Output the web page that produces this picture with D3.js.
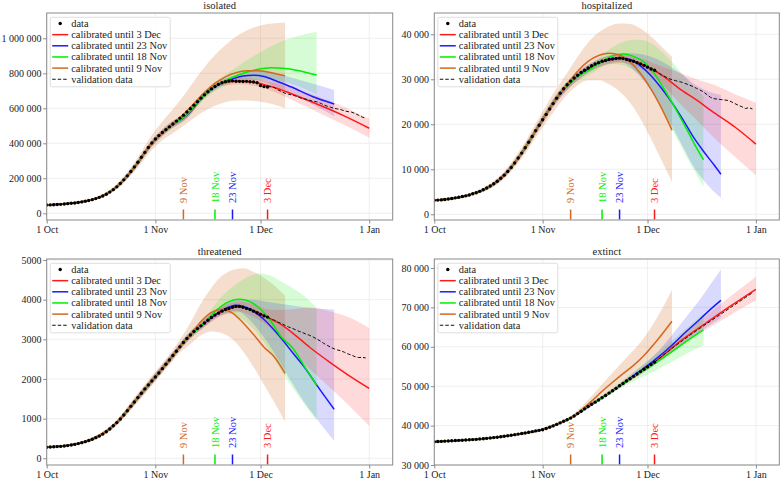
<!DOCTYPE html>
<html><head><meta charset="utf-8">
<script src="https://cdn.jsdelivr.net/npm/d3@7"></script>
<style>
body{margin:0;background:#fff}
svg{display:block}
text{font-family:"Liberation Serif","Times New Roman",serif;fill:#222}
</style>
</head><body>
<svg id="c" width="782" height="482"></svg>
<script>
// ---------------- DATA ----------------
const tickDays = [0, 31, 61, 92];
const tickLabels = ["1 Oct", "1 Nov", "1 Dec", "1 Jan"];
const calDays = [63, 53, 48, 39];
const calLabels = ["3 Dec", "23 Nov", "18 Nov", "9 Nov"];
const legendLabels = ["data", "calibrated until 3 Dec", "calibrated until 23 Nov", "calibrated until 18 Nov", "calibrated until 9 Nov", "validation data"];
const modelColors = ["#ff1a1a", "#1a1aff", "#00ee00", "#d2691e"];
const dataStartDay = 0;
const validStartDay = 63;

// isolated
const isoTicks = [0, 200000, 400000, 600000, 800000, 1000000];
const isoData = [47000,48000,49000,50000,51000,53000,55000,57000,59000,62000,
 65000,69000,73000,78000,84000,91000,99000,109000,121000,135000,
 151000,170000,191000,214000,239000,265000,292000,320000,348000,376000,
 402000,425000,444000,462000,478000,494000,510000,527000,544000,561000,
 579000,598000,618000,638000,658000,677000,695000,711000,725000,737000,
 746000,752000,756000,757000,755000,754000,753000,754000,752000,750000,
 746000,730000,724000,722000];
const isoValid = [722000,724000,718000,705000,695000,686000,680000,676000,670000,662000,
 655000,652000,646000,640000,638000,630000,620000,612000,606000,600000,
 596000,592000,585000,581000,578000,570000,560000,550000,543000];
const isoRed = [[0,48000,45000,51000],[5,53000,50000,56000],[10,66000,62000,70000],[15,92000,86000,98000],[20,152000,141000,163000],[25,262000,246000,278000],[30,400000,380000,420000],[35,494000,474000,514000],[40,561000,542000,580000],[45,677000,660000,694000],[50,746000,729000,763000],[55,756000,738000,774000],[60,746000,725000,767000],[63,730000,708000,752000],[66,712000,685000,740000],[70,682000,648000,716000],[75,642000,600000,684000],[80,600000,552000,648000],[85,555000,504000,606000],[92,486000,432000,540000]];
const isoBlue = [[0,48000,45000,51000],[10,66000,62000,70000],[20,152000,141000,163000],[25,262000,246000,278000],[30,400000,382000,418000],[35,494000,475000,513000],[40,561000,543000,579000],[45,677000,660000,694000],[50,745000,728000,762000],[53,768000,752000,784000],[56,784000,764000,802000],[59,789000,762000,814000],[62,782000,752000,812000],[66,752000,715000,795000],[70,720000,680000,775000],[76,666000,620000,740000],[82,625000,555000,705000]];
const isoGreen = [[0,48000,45000,51000],[10,66000,62000,70000],[20,152000,141000,163000],[25,262000,246000,278000],[30,400000,382000,418000],[35,494000,476000,512000],[40,562000,543000,582000],[44,655000,632000,678000],[48,725000,698000,754000],[52,768000,735000,805000],[56,800000,755000,860000],[60,822000,765000,910000],[64,832000,765000,955000],[68,828000,750000,990000],[72,815000,725000,1015000],[77,790000,680000,1038000]];
const isoOrange = [[0,48000,45000,51000],[10,66000,61000,71000],[20,152000,138000,168000],[25,262000,238000,290000],[30,402000,362000,448000],[33,462000,418000,525000],[36,512000,458000,595000],[39,565000,500000,670000],[42,628000,545000,755000],[45,690000,585000,835000],[48,742000,615000,905000],[51,780000,635000,962000],[54,803000,645000,1010000],[57,814000,645000,1045000],[60,815000,640000,1068000],[63,808000,630000,1082000],[66,795000,615000,1088000],[68,786000,600000,1090000]];

// hospitalized
const hospTicks = [0, 10000, 20000, 30000, 40000];
const hospData = [3100,3150,3200,3300,3400,3500,3650,3800,3950,4100,
 4300,4550,4800,5100,5450,5850,6300,6800,7350,8000,
 8700,9500,10400,11400,12500,13600,14800,16000,17300,18600,
 19800,21000,22200,23400,24600,25800,26900,27900,28800,29600,
 30300,30900,31500,32000,32500,33000,33400,33700,34000,34200,
 34400,34500,34600,34700,34600,34400,34200,34000,33700,33400,
 33100,32700,32300,32000];
const hospValid = [32000,31500,31000,30600,30200,29900,29700,29500,29300,29000,
 28700,28400,28000,27600,27200,26600,26000,25700,25600,25500,
 25400,25300,25000,24600,24200,23900,23500,23700,23400];
const hospRed = [[0,3100,2900,3300],[10,4300,4050,4550],[20,8700,8200,9200],[25,13600,12900,14300],[30,19800,19000,20600],[35,25800,24900,26700],[40,30000,29100,30900],[45,32800,31900,33700],[50,34300,33400,35200],[54,34600,33700,35500],[58,33800,32700,34900],[62,32400,31000,33800],[66,30400,28300,32600],[70,28000,24800,31500],[75,25400,21000,30000],[80,22600,17000,28800],[86,19400,12800,26700],[92,15600,8700,24800]];
const hospBlue = [[0,3100,2900,3300],[10,4300,4050,4550],[20,8700,8200,9200],[25,13600,12900,14300],[30,19800,19000,20600],[35,25800,24900,26700],[40,30000,29100,30900],[45,32800,31900,33700],[50,34400,33500,35300],[53,34800,33900,35700],[56,34400,32800,35800],[59,33000,30500,35600],[62,30800,27500,35000],[65,28000,23800,34000],[68,24800,19500,32600],[71,21200,15200,31000],[74,17300,10800,29200],[77,14000,7600,27800],[80,11000,5000,26900],[82,8900,3700,26500]];
const hospGreen = [[0,3100,2900,3300],[10,4300,4050,4550],[20,8700,8200,9200],[25,13600,12900,14300],[30,19800,19000,20600],[35,25800,24900,26700],[40,30000,29000,31000],[45,32400,31300,33500],[48,34000,32700,35400],[51,35200,33400,37100],[54,35600,33100,38300],[57,35100,32000,38800],[60,33800,29800,38700],[63,31200,26500,37500],[66,27500,22000,35500],[69,23500,17500,33000],[72,19200,13000,30300],[75,14800,8800,27800],[77,12100,6100,26300]];
const hospOrange = [[0,3100,2850,3350],[10,4300,3950,4650],[20,8700,7900,9600],[25,13600,12400,14900],[30,19800,18200,21500],[35,25800,23700,28000],[38,28900,26600,31400],[41,31800,28700,35000],[44,34000,29800,38200],[47,35300,29800,40400],[50,35800,28900,41800],[53,35400,27300,42400],[56,33800,24800,42300],[59,31300,21200,41300],[62,27800,16800,39500],[65,23600,12000,37300],[68,18700,7200,35000]];

// threatened
const thrTicks = [0, 1000, 2000, 3000, 4000, 5000];
const thrData = [280,285,290,295,300,310,320,335,350,370,
 395,420,450,480,520,560,610,670,740,820,
 900,990,1090,1200,1310,1420,1530,1640,1750,1850,
 1950,2050,2150,2260,2370,2480,2590,2700,2810,2920,
 3020,3110,3200,3270,3340,3410,3480,3550,3610,3660,
 3710,3750,3780,3810,3830,3830,3810,3780,3750,3710,
 3670,3630,3590,3560];
const thrValid = [3560,3510,3480,3430,3400,3350,3310,3280,3240,3200,
 3170,3130,3100,3060,3010,2960,2900,2850,2800,2760,
 2730,2710,2670,2630,2600,2560,2540,2545,2530];
const thrRed = [[0,280,260,300],[10,395,365,425],[20,900,845,955],[25,1420,1345,1495],[30,1950,1865,2035],[35,2480,2395,2565],[40,3020,2930,3110],[45,3410,3315,3505],[50,3710,3600,3820],[55,3820,3690,3950],[60,3690,3520,3860],[63,3550,3350,3750],[66,3420,3100,3740],[70,3170,2700,3760],[75,2800,2250,3800],[80,2470,1850,3720],[86,2100,1350,3560],[92,1765,814,3285]];
const thrBlue = [[0,280,260,300],[10,395,365,425],[20,900,845,955],[25,1420,1345,1495],[30,1950,1865,2035],[35,2480,2395,2565],[40,3020,2930,3110],[45,3410,3315,3505],[50,3730,3620,3840],[54,3860,3720,4000],[58,3760,3480,4000],[62,3500,3050,3960],[66,3120,2500,3900],[70,2680,1900,3850],[74,2240,1350,3800],[77,1850,1000,3780],[82,1235,436,3750]];
const thrGreen = [[0,280,260,300],[10,395,365,425],[20,900,845,955],[25,1420,1345,1495],[30,1950,1865,2035],[35,2480,2395,2565],[40,3020,2930,3110],[45,3420,3320,3520],[48,3700,3550,3880],[52,3950,3650,4250],[55,4010,3550,4450],[58,3950,3350,4600],[61,3760,3050,4660],[64,3450,2650,4600],[67,3050,2200,4450],[70,2800,1800,4300],[74,2250,1300,4050],[77,1850,948,3800]];
const thrOrange = [[0,280,255,305],[10,395,355,435],[20,900,830,975],[25,1420,1320,1530],[30,1950,1830,2080],[35,2480,2350,2620],[38,2810,2660,2990],[41,3120,2880,3420],[44,3450,3100,3900],[47,3680,3200,4300],[50,3760,3150,4600],[53,3660,3000,4750],[56,3420,2700,4790],[59,3120,2300,4700],[62,2800,1850,4550],[65,2550,1400,4350],[68,2143,923,4100]];

// extinct
const extTicks = [30000, 40000, 50000, 60000, 70000, 80000];
const extData = [35900,35950,36000,36050,36100,36150,36200,36250,36300,36350,
 36400,36450,36500,36580,36660,36750,36850,36950,37060,37180,
 37300,37430,37560,37700,37840,37990,38140,38300,38470,38650,
 38800,38960,39250,39570,39920,40300,40700,41100,41500,41900,
 42450,43050,43650,44250,44850,45400,45950,46500,47050,47650,
 48250,48850,49450,50100,50700,51300,51900,52500,53100,53700,
 54300,54900,55500,56100];
const extValid = [56100,56800,57500,58200,58900,59600,60250,60900,61550,62200,
 62850,63500,64100,64700,65300,65900,66500,67100,67700,68300,
 68900,69500,70100,70700,71300,71900,72500,73100,73700];
const extRed = [[0,35900,35800,36000],[10,36400,36250,36550],[20,37300,37100,37500],[30,38800,38550,39050],[35,40300,40000,40600],[40,42450,42100,42800],[45,45400,45000,45800],[50,48250,47800,48700],[55,51300,50800,51800],[60,54300,53700,54900],[63,56100,55400,56800],[70,61200,60100,62400],[78,66200,64500,68000],[85,70500,68200,73000],[92,74600,71800,77800]];
const extBlue = [[0,35900,35800,36000],[10,36400,36250,36550],[20,37300,37100,37500],[30,38800,38550,39050],[35,40300,40000,40600],[40,42450,42100,42800],[45,45400,45000,45800],[50,48250,47800,48700],[53,50100,49600,50600],[58,53300,52500,54100],[63,56600,55300,57900],[68,60400,58500,63000],[72,63800,61300,67500],[76,67000,63800,72000],[79,69500,65600,75800],[82,71800,67300,79600]];
const extGreen = [[0,35900,35800,36000],[10,36400,36250,36550],[20,37300,37100,37500],[30,38800,38550,39050],[35,40300,40000,40600],[40,42450,42100,42800],[44,44850,44400,45300],[48,47050,46700,47400],[53,50100,49300,50900],[58,53000,51700,54300],[63,55800,53800,57900],[68,58800,56200,61600],[72,61300,58200,64600],[77,64300,60300,68300]];
const extOrange = [[0,35900,35800,36000],[10,36400,36250,36550],[20,37300,37100,37500],[30,38800,38500,39100],[35,40300,39900,40700],[39,41900,41500,42300],[42,43900,43200,44700],[45,46200,45000,47500],[48,48700,46900,50500],[51,51000,48600,53400],[54,53200,50200,56300],[57,55300,51800,59100],[60,57800,53500,62300],[64,61900,56200,67800],[68,66500,59000,74400]];

// ---------------- LAYOUT ----------------
const panels = [
  {title:"isolated", x0:46.7, y0:13, w:346, h:207, ydom:[-38300,1144600], ticks:isoTicks, data:isoData, valid:isoValid, models:[isoRed,isoBlue,isoGreen,isoOrange]},
  {title:"hospitalized", x0:434.3, y0:13, w:345, h:207, ydom:[-1270,44730], ticks:hospTicks, data:hospData, valid:hospValid, models:[hospRed,hospBlue,hospGreen,hospOrange]},
  {title:"threatened", x0:46.7, y0:259, w:346, h:206, ydom:[-169,5025], ticks:thrTicks, data:thrData, valid:thrValid, models:[thrRed,thrBlue,thrGreen,thrOrange]},
  {title:"extinct", x0:434.3, y0:259, w:345, h:206, ydom:[30000,82280], ticks:extTicks, data:extData, valid:extValid, models:[extRed,extBlue,extGreen,extOrange]}
];
const xDomain = [0, 98.7];

const svg = d3.select("#c");
const fmt = v => v >= 10000 ? d3.format(",")(v).replace(/,/g, " ") : String(v);

panels.forEach((p, pi) => {
  const x = d3.scaleLinear().domain(xDomain).range([p.x0, p.x0 + p.w]);
  const y = d3.scaleLinear().domain(p.ydom).range([p.y0 + p.h, p.y0]);
  const g = svg.append("g");
  const clipId = "clip" + pi;
  svg.append("clipPath").attr("id", clipId).append("rect")
    .attr("x", p.x0).attr("y", p.y0).attr("width", p.w).attr("height", p.h);

  // grid
  g.selectAll(".gx").data(tickDays).enter().append("line")
    .attr("x1", d => x(d)).attr("x2", d => x(d)).attr("y1", p.y0).attr("y2", p.y0 + p.h)
    .attr("stroke", "#ebebeb").attr("stroke-width", 0.8);
  g.selectAll(".gy").data(p.ticks).enter().append("line")
    .attr("x1", p.x0).attr("x2", p.x0 + p.w).attr("y1", d => y(d)).attr("y2", d => y(d))
    .attr("stroke", "#ebebeb").attr("stroke-width", 0.8);

  const plot = g.append("g").attr("clip-path", `url(#${clipId})`);

  const area = d3.area().x(d => x(d[0])).y0(d => y(d[2])).y1(d => y(d[3])).curve(d3.curveMonotoneX);
  const line = d3.line().x(d => x(d[0])).y(d => y(d[1])).curve(d3.curveMonotoneX);
  [3, 2, 1, 0].forEach(mi => {
    plot.append("path").attr("d", area(p.models[mi]))
      .attr("fill", modelColors[mi]).attr("fill-opacity", mi === 3 ? 0.22 : 0.16).attr("stroke", "none");
  });
  [0, 1, 2, 3].forEach(mi => {
    plot.append("path").attr("d", line(p.models[mi]))
      .attr("fill", "none").attr("stroke", modelColors[mi]).attr("stroke-width", 1.5);
  });

  plot.selectAll(".dot").data(p.data).enter().append("circle")
    .attr("cx", (d, i) => x(dataStartDay + i)).attr("cy", d => y(d)).attr("r", 1.7).attr("fill", "#000");
  const vline = d3.line().x((d, i) => x(validStartDay + i)).y(d => y(d));
  plot.append("path").attr("d", vline(p.valid)).attr("fill", "none")
    .attr("stroke", "#111").attr("stroke-width", 1).attr("stroke-dasharray", "3.5,2");

  const yb = p.y0 + p.h;
  calDays.forEach((cd, ci) => {
    const cx = x(cd);
    g.append("line").attr("x1", cx).attr("x2", cx).attr("y1", yb - 0.5).attr("y2", yb - 10.5)
      .attr("stroke", modelColors[ci]).attr("stroke-width", 1.5);
    g.append("text").attr("transform", `translate(${cx},${yb - 17}) rotate(-90)`)
      .attr("dy", "0.35em").attr("font-size", 10.5).style("fill", modelColors[ci])
      .text(calLabels[ci]);
  });

  g.append("rect").attr("x", p.x0).attr("y", p.y0).attr("width", p.w).attr("height", p.h)
    .attr("fill", "none").attr("stroke", "#8a8a8a").attr("stroke-width", 1);

  const ax = g.append("g").attr("transform", `translate(0,${yb})`)
    .call(d3.axisBottom(x).tickValues(tickDays).tickFormat((d, i) => tickLabels[i]).tickSize(3.5).tickPadding(2.5));
  const ay = g.append("g").attr("transform", `translate(${p.x0},0)`)
    .call(d3.axisLeft(y).tickValues(p.ticks).tickFormat(fmt).tickSize(3.5).tickPadding(1.8));
  [ax, ay].forEach(a => {
    a.select(".domain").remove();
    a.selectAll(".tick line").attr("stroke", "#8a8a8a");
    a.selectAll(".tick text").attr("font-size", 10).attr("font-family", '"Liberation Serif",serif').style("fill", "#222");
  });

  g.append("text").attr("x", p.x0 + p.w / 2).attr("y", p.y0 - 4).attr("text-anchor", "middle")
    .attr("font-size", 10.5).text(p.title);

  const lx = p.x0 + 3.5, ly = p.y0 + 4.3;
  const lg = g.append("g");
  lg.append("rect").attr("x", lx).attr("y", ly).attr("width", 120).attr("height", 69.5).attr("rx", 2)
    .attr("fill", "#fff").attr("fill-opacity", 0.85).attr("stroke", "#d6d6d6").attr("stroke-width", 0.8);
  legendLabels.forEach((lab, li) => {
    const ry = ly + 6.2 + li * 11.15;
    if (li === 0) {
      lg.append("circle").attr("cx", lx + 10).attr("cy", ry).attr("r", 1.7).attr("fill", "#000");
    } else if (li === 5) {
      lg.append("line").attr("x1", lx + 2).attr("x2", lx + 18).attr("y1", ry).attr("y2", ry)
        .attr("stroke", "#111").attr("stroke-width", 1).attr("stroke-dasharray", "3.5,2");
    } else {
      lg.append("line").attr("x1", lx + 2).attr("x2", lx + 18).attr("y1", ry).attr("y2", ry)
        .attr("stroke", modelColors[li - 1]).attr("stroke-width", 1.5);
    }
    lg.append("text").attr("x", lx + 21).attr("y", ry).attr("dy", "0.33em").attr("font-size", 10.4).text(lab);
  });
});
</script>
</body></html>
